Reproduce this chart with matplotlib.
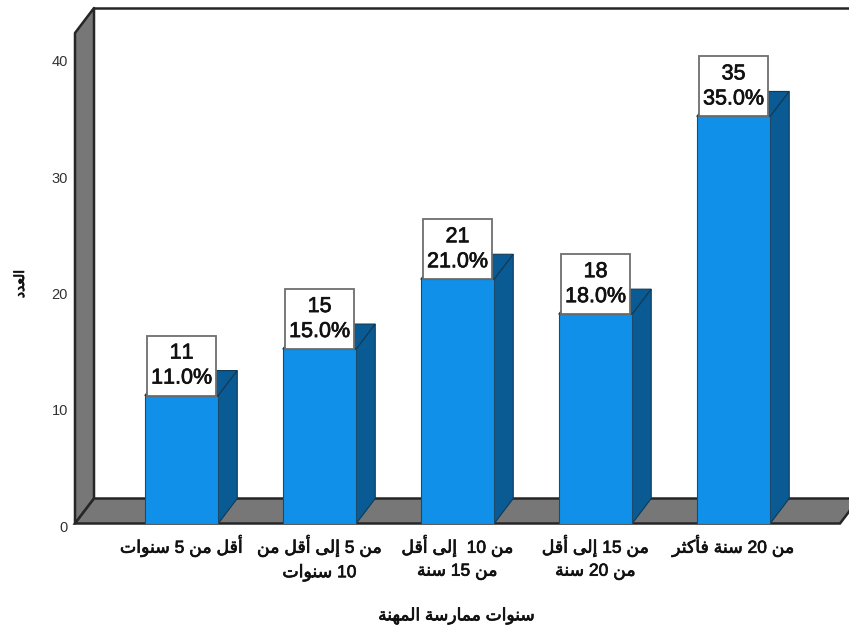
import matplotlib
matplotlib.use("Agg")
import matplotlib.pyplot as plt
import matplotlib.patheffects as pe
from matplotlib.patches import Polygon, Rectangle
from matplotlib.transforms import ScaledTranslation

plt.rcParams['font.family'] = ['Liberation Sans', 'DejaVu Sans']
plt.rcParams['text.kerning_factor'] = 10

categories = [
    "أقل من 5 سنوات",
    "من 5 إلى أقل من\n10 سنوات",
    "من 10  إلى أقل\nمن 15 سنة",
    "من 15 إلى أقل\nمن 20 سنة",
    "من 20 سنة فأكثر",
]
counts = [11, 15, 21, 18, 35]
percents = [11.0, 15.0, 21.0, 18.0, 35.0]
y_ticks = [0, 10, 20, 30, 40]
x_title = "سنوات ممارسة المهنة"
y_title = "العدد"

# (isolated, final, initial, medial); two forms = joins only to the right
forms = {
    'أ': (0xFE83, 0xFE84), 'إ': (0xFE87, 0xFE88), 'ا': (0xFE8D, 0xFE8E),
    'ة': (0xFE93, 0xFE94), 'د': (0xFEA9, 0xFEAA), 'ر': (0xFEAD, 0xFEAE),
    'و': (0xFEED, 0xFEEE), 'ى': (0xFEEF, 0xFEF0),
    'ت': (0xFE95, 0xFE96, 0xFE97, 0xFE98), 'ث': (0xFE99, 0xFE9A, 0xFE9B, 0xFE9C),
    'س': (0xFEB1, 0xFEB2, 0xFEB3, 0xFEB4), 'ع': (0xFEC9, 0xFECA, 0xFECB, 0xFECC),
    'ف': (0xFED1, 0xFED2, 0xFED3, 0xFED4), 'ق': (0xFED5, 0xFED6, 0xFED7, 0xFED8),
    'ك': (0xFED9, 0xFEDA, 0xFEDB, 0xFEDC), 'ل': (0xFEDD, 0xFEDE, 0xFEDF, 0xFEE0),
    'م': (0xFEE1, 0xFEE2, 0xFEE3, 0xFEE4), 'ن': (0xFEE5, 0xFEE6, 0xFEE7, 0xFEE8),
    'ه': (0xFEE9, 0xFEEA, 0xFEEB, 0xFEEC),
}


def shape_line(s):
    out = []
    for k, ch in enumerate(s):
        if ch not in forms:
            out.append(ch)
            continue
        prev = s[k - 1] if k > 0 else ' '
        nxt = s[k + 1] if k + 1 < len(s) else ' '
        joins_prev = prev in forms and len(forms[prev]) == 4
        joins_next = nxt in forms and len(forms[ch]) == 4
        if joins_prev and joins_next:
            out.append(chr(forms[ch][3]))
        elif joins_prev:
            out.append(chr(forms[ch][1]))
        elif joins_next:
            out.append(chr(forms[ch][2]))
        else:
            out.append(chr(forms[ch][0]))
    # visual order: right to left, digits stay as they are
    words = ''.join(out).split(' ')
    words = [w if w.isdigit() else w[::-1] for w in words]
    return ' '.join(words[::-1])


def shape(s):
    return '\n'.join(shape_line(line) for line in s.split('\n'))


W, H = 849, 633
fig = plt.figure(figsize=(W / 100, H / 100), dpi=100)
ax = fig.add_axes([75 / W, 1 - 523.5 / H, (840 - 75) / W, (523.5 - 33) / H])

px_x = 138.0
px_y = 11.63
ax.set_xlim(-0.772, 4.772)
ax.set_ylim(0, 490.5 / px_y)
ax.patch.set_visible(False)
for s in ax.spines.values():
    s.set_visible(False)

dx = 19 / px_x
dy = 25 / px_y
x0, x1 = ax.get_xlim()
y1 = ax.get_ylim()[1]

grey = '#777777'
dark = '#262626'
wall = Polygon([(x0, 0), (x0 + dx, dy), (x0 + dx, y1 + dy), (x0, y1)], fc=grey, ec=dark, lw=1.8,
               joinstyle='round', clip_on=False, zorder=1)
floor = Polygon([(x0, 0), (x0 + dx, dy), (x1 + dx, dy), (x1, 0)], fc=grey, ec=dark, lw=1.8,
                clip_on=False, zorder=1)
ax.add_patch(wall)
ax.add_patch(floor)
ax.plot([x0 + dx, x1 + dx], [y1 + dy, y1 + dy], color=dark, lw=1.8, clip_on=False, zorder=1)

xs = list(range(len(counts)))
bw = 73.5 / px_x
ax.bar(xs, counts, width=bw, color='#1090E8', edgecolor='#1B4A6B', linewidth=0.8, zorder=3)

box_w = 69 / px_x
box_h = 60 / px_y
thick = [pe.withStroke(linewidth=0.5, foreground='#111111')]
for x, v, p in zip(xs, counts, percents):
    r = x + bw / 2
    side = Polygon([(r, 0), (r + dx, dy), (r + dx, v + dy), (r, v)], fc='#0A5A94', ec='#123A55',
                   lw=0.8, clip_on=False, zorder=2)
    top = Polygon([(r - bw, v), (r - bw + dx, v + dy), (r + dx, v + dy), (r, v)], fc='#0A5A94',
                  ec='#123A55', lw=0.8, clip_on=False, zorder=2)
    ax.add_patch(top)
    ax.add_patch(side)
    ax.add_patch(Rectangle((x - box_w / 2, v), box_w, box_h, fc='white', ec='#6E6E6E', lw=1.3,
                           clip_on=False, zorder=4))
    ax.text(x, v + box_h / 2, f"{v}\n{p:.1f}%", ha='center', va='center', fontsize=15.5,
            color='#111111', linespacing=1.25, zorder=5, path_effects=thick)

ax.set_yticks(y_ticks, [str(t) for t in y_ticks], fontsize=10.5, color='#333333')
ax.tick_params(axis='y', length=0, pad=5)
down = ScaledTranslation(0, -2.5 / 100, fig.dpi_scale_trans)
for lab in ax.get_yticklabels():
    lab.set_transform(lab.get_transform() + down)

ax.set_xticks(xs, [shape(c) for c in categories], fontsize=12.5, color='#111111', linespacing=1.55)
ax.tick_params(axis='x', length=0, pad=8)
for lab in ax.get_xticklabels():
    lab.set_path_effects([pe.withStroke(linewidth=0.5, foreground='#111111')])

fig.text(457 / W, 1 - 616 / H, shape(x_title), ha='center', va='center', fontsize=12.3,
         color='#111111', path_effects=thick)
fig.text(20 / W, 1 - 284 / H, shape(y_title), ha='center', va='center', rotation=90, fontsize=10,
         color='#111111', path_effects=thick)

fig.savefig('out.png', dpi=100)
